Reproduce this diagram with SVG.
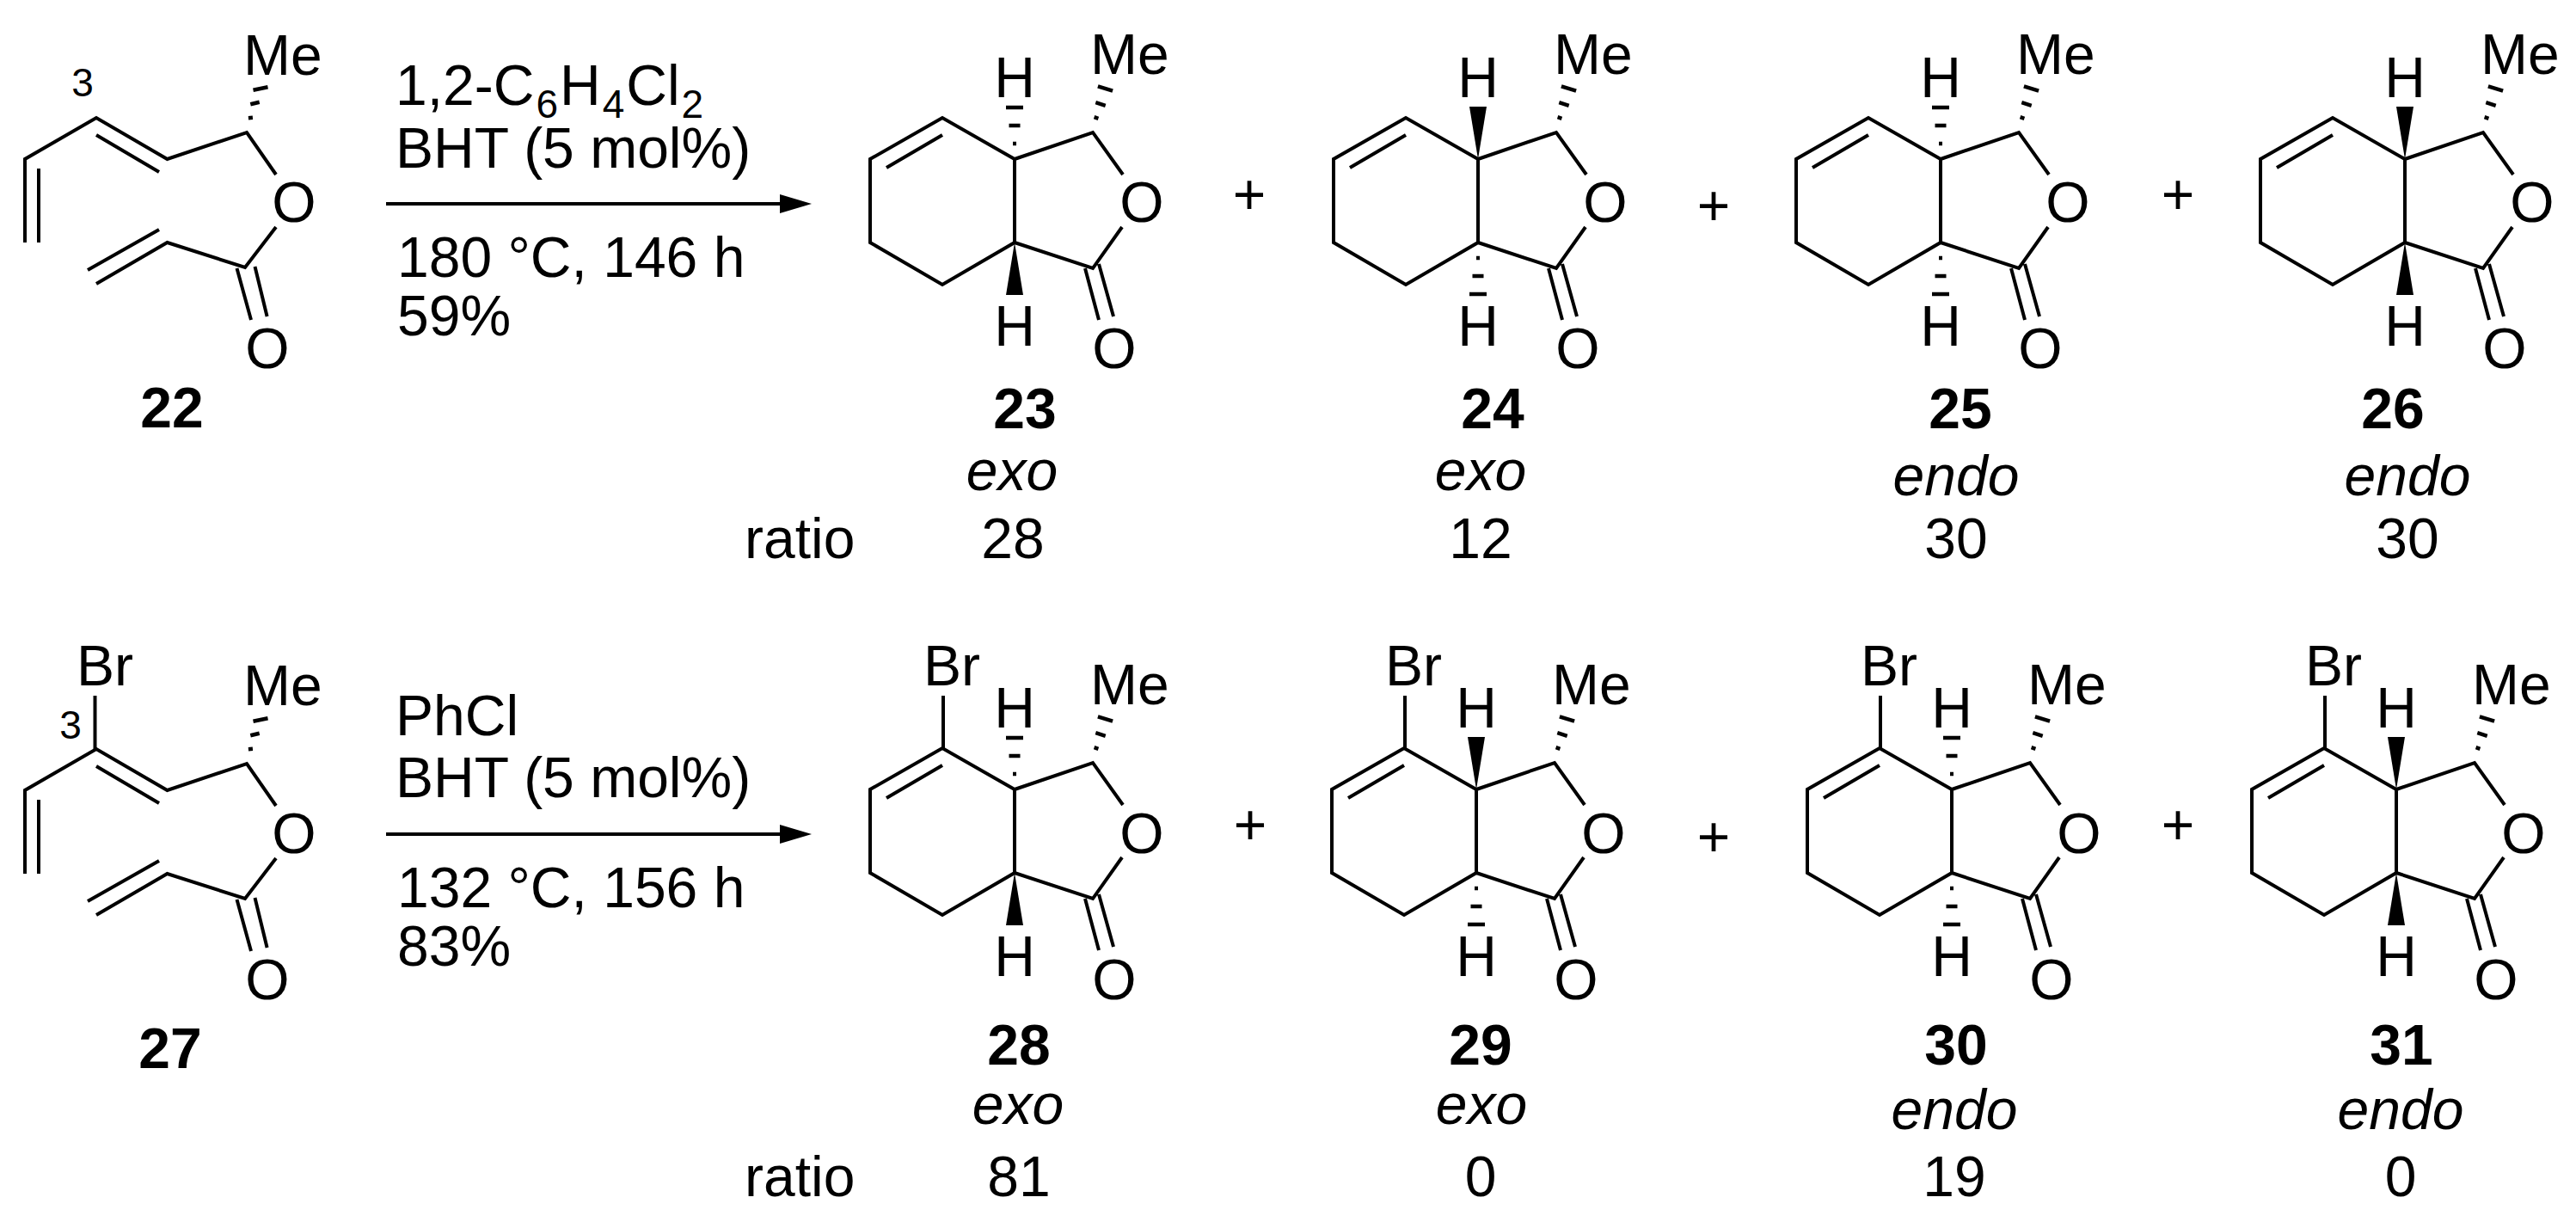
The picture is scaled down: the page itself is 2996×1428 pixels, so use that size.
<svg xmlns="http://www.w3.org/2000/svg" width="2996" height="1428" viewBox="0 0 2996 1428">
<style>
text{font-family:"Liberation Sans",Arial,sans-serif;font-size:66px;fill:#000}
.m{text-anchor:middle}
.b{font-weight:bold}
.i{font-style:italic}
.s{font-size:46px}
.sub{font-size:46px}
.bond{fill:none;stroke:#000;stroke-width:4;stroke-linejoin:miter}
.hash{fill:none;stroke:#000;stroke-width:4.500}
.fill{fill:#000;stroke:none}
</style>
<defs>
<g id="skel"><path class="bond" d="M0,0L-84,-48L-168,0V97L-84,146L0,97ZM-84,-28L-149,10M0,0L91,-31L126,18M0,97L91,127L125,79M82,127L98,187M98,122L115,183"/><path class="hash" d="M92.600,-48.800L97.400,-47.200M94.300,-65.800L105.700,-62.200M96.900,-84.700L114.100,-79.300"/></g>
<polygon id="wt" class="fill" points="0,0 -10,-61 10,-61"/>
<polygon id="wb" class="fill" points="0,97 -10,158 10,158"/>
<path id="ht" class="hash" d="M-10,-60H10M-6.500,-39H6.500M-2,-18H2"/>
<path id="hb" class="hash" d="M-10,157H10M-6.500,136H6.500M-2,115H2"/>
<g id="diene"><path class="bond" d="M29,282V185L112,137L194.500,185L287,154L321,203M45,282V196M112,157L185,200M112,330L194.500,282L285,311L321,264M102,314L185,267M275.500,312L292,372M296.500,310L310.600,368"/><path class="hash" d="M288.900,137.200L293.900,136.800M291.300,121.300L301.700,118.700M294.500,104.700L311.500,101.300"/></g>
<g id="arrow"><path class="bond" d="M449,0H915"/><polygon class="fill" points="944,0 907,-11 907,11"/></g>
</defs>

<g id="connectors">
<use href="#arrow" x="0" y="237"/>
<use href="#arrow" x="0" y="970"/>
</g>

<g id="compound-22">
<use href="#diene"/>
<text class="s m" x="96" y="112">3</text>
<text x="283" y="87">Me</text>
<text class="m" x="342" y="258">O</text>
<text class="m" x="311" y="428">O</text>
<text class="b m" x="200" y="497">22</text>
</g>

<g id="conditions-1">
<text x="460" y="122">1,2-C<tspan class="sub" dx="2" dy="15">6</tspan><tspan dx="2" dy="-15">H</tspan><tspan class="sub" dx="2" dy="15">4</tspan><tspan dx="2" dy="-15">Cl</tspan><tspan class="sub" dx="2" dy="15">2</tspan></text>
<text x="460" y="195">BHT (5 mol%)</text>
<text x="462" y="322">180 °C, 146 h</text>
<text x="462" y="390">59%</text>
</g>

<g id="compound-23" transform="translate(1180,185)">
<use href="#skel"/><use href="#ht"/><use href="#wb"/>
<text class="m" x="0" y="-72">H</text><text x="88" y="-99">Me</text><text class="m" x="148" y="73">O</text><text class="m" x="116" y="243">O</text><text class="m" x="0" y="217">H</text>
</g>
<g id="compound-24" transform="translate(1719,185)">
<use href="#skel"/><use href="#wt"/><use href="#hb"/>
<text class="m" x="0" y="-72">H</text><text x="88" y="-99">Me</text><text class="m" x="148" y="73">O</text><text class="m" x="116" y="243">O</text><text class="m" x="0" y="217">H</text>
</g>
<g id="compound-25" transform="translate(2257,185)">
<use href="#skel"/><use href="#ht"/><use href="#hb"/>
<text class="m" x="0" y="-72">H</text><text x="88" y="-99">Me</text><text class="m" x="148" y="73">O</text><text class="m" x="116" y="243">O</text><text class="m" x="0" y="217">H</text>
</g>
<g id="compound-26" transform="translate(2797,185)">
<use href="#skel"/><use href="#wt"/><use href="#wb"/>
<text class="m" x="0" y="-72">H</text><text x="88" y="-99">Me</text><text class="m" x="148" y="73">O</text><text class="m" x="116" y="243">O</text><text class="m" x="0" y="217">H</text>
</g>

<g id="plus-row-1">
<text class="m" x="1453" y="249">+</text>
<text class="m" x="1993" y="262">+</text>
<text class="m" x="2533" y="249">+</text>
</g>

<g id="labels-row-1">
<text class="b m" x="1192" y="498">23</text>
<text class="i m" x="1177" y="570">exo</text>
<text x="866" y="649">ratio</text>
<text class="m" x="1178" y="649">28</text>
<text class="b m" x="1736" y="498">24</text>
<text class="i m" x="1722" y="570">exo</text>
<text class="m" x="1722" y="649">12</text>
<text class="b m" x="2280" y="498">25</text>
<text class="i m" x="2275" y="576">endo</text>
<text class="m" x="2275" y="649">30</text>
<text class="b m" x="2783" y="498">26</text>
<text class="i m" x="2800" y="576">endo</text>
<text class="m" x="2800" y="649">30</text>
</g>

<g id="compound-27">
<use href="#diene" y="734"/>
<path class="bond" d="M110.500,809V871"/>
<text x="89" y="797">Br</text>
<text class="s m" x="82" y="859">3</text>
<text x="283" y="820">Me</text>
<text class="m" x="342" y="992">O</text>
<text class="m" x="311" y="1162">O</text>
<text class="b m" x="198" y="1242">27</text>
</g>

<g id="conditions-2">
<text x="460" y="855">PhCl</text>
<text x="460" y="927">BHT (5 mol%)</text>
<text x="462" y="1055">132 °C, 156 h</text>
<text x="462" y="1123">83%</text>
</g>

<g id="compound-28" transform="translate(1180,918)">
<use href="#skel"/><use href="#ht"/><use href="#wb"/><path class="bond" d="M-83,-109V-47"/>
<text x="-106" y="-121">Br</text>
<text class="m" x="0" y="-72">H</text><text x="88" y="-99">Me</text><text class="m" x="148" y="74">O</text><text class="m" x="116" y="244">O</text><text class="m" x="0" y="217">H</text>
</g>
<g id="compound-29" transform="translate(1717,918)">
<use href="#skel"/><use href="#wt"/><use href="#hb"/><path class="bond" d="M-83,-109V-47"/>
<text x="-106" y="-121">Br</text>
<text class="m" x="0" y="-72">H</text><text x="88" y="-99">Me</text><text class="m" x="148" y="74">O</text><text class="m" x="116" y="244">O</text><text class="m" x="0" y="217">H</text>
</g>
<g id="compound-30" transform="translate(2270,918)">
<use href="#skel"/><use href="#ht"/><use href="#hb"/><path class="bond" d="M-83,-109V-47"/>
<text x="-106" y="-121">Br</text>
<text class="m" x="0" y="-72">H</text><text x="88" y="-99">Me</text><text class="m" x="148" y="74">O</text><text class="m" x="116" y="244">O</text><text class="m" x="0" y="217">H</text>
</g>
<g id="compound-31" transform="translate(2787,918)">
<use href="#skel"/><use href="#wt"/><use href="#wb"/><path class="bond" d="M-83,-109V-47"/>
<text x="-106" y="-121">Br</text>
<text class="m" x="0" y="-72">H</text><text x="88" y="-99">Me</text><text class="m" x="148" y="74">O</text><text class="m" x="116" y="244">O</text><text class="m" x="0" y="217">H</text>
</g>

<g id="plus-row-2">
<text class="m" x="1454" y="982">+</text>
<text class="m" x="1993" y="996">+</text>
<text class="m" x="2533" y="982">+</text>
</g>

<g id="labels-row-2">
<text class="b m" x="1185" y="1238">28</text>
<text class="i m" x="1184" y="1307">exo</text>
<text x="866" y="1391">ratio</text>
<text class="m" x="1185" y="1391">81</text>
<text class="b m" x="1722" y="1238">29</text>
<text class="i m" x="1723" y="1307">exo</text>
<text class="m" x="1722" y="1391">0</text>
<text class="b m" x="2275" y="1238">30</text>
<text class="i m" x="2273" y="1313">endo</text>
<text class="m" x="2273" y="1391">19</text>
<text class="b m" x="2793" y="1238">31</text>
<text class="i m" x="2792" y="1313">endo</text>
<text class="m" x="2792" y="1391">0</text>
</g>
</svg>
